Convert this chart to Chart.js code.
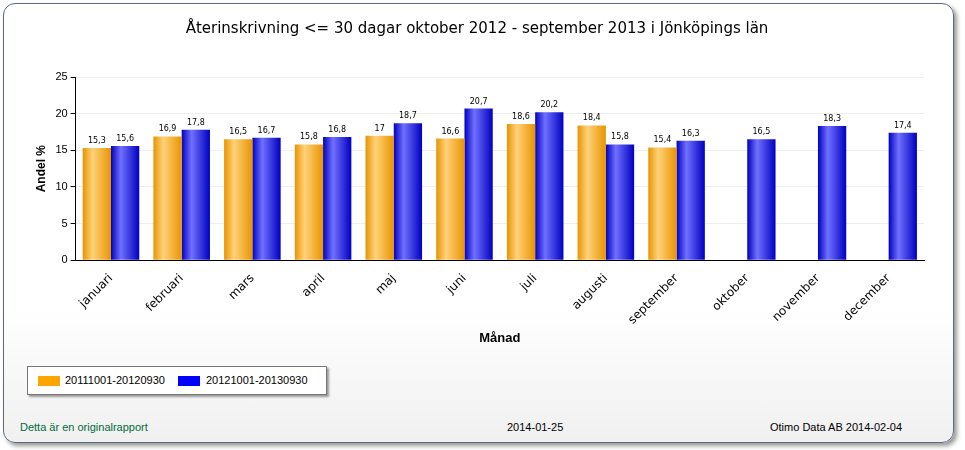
<!DOCTYPE html>
<html><head><meta charset="utf-8">
<script src="https://cdn.jsdelivr.net/npm/chart.js@4"></script>
<style>
body{margin:0;background:#fff;font-family:"Liberation Sans",Arial,sans-serif;}
#panel{position:absolute;left:3px;top:3px;width:949px;height:438px;border:1px solid #5a6a80;border-radius:12px;
 background:linear-gradient(#fff 70%,#f0f0f0);box-shadow:3px 3px 4px #999;}
#wrap{position:absolute;left:0;top:0;width:950px;height:350px;}
#legend{position:absolute;left:27px;top:366px;width:298px;height:27px;border:1px solid #777;box-shadow:2px 2px 2px #999;background:#fff;font-size:11px;}
.sw{position:absolute;top:9px;width:22px;height:10px;}
.lt{position:absolute;top:7px;}
.ft{position:absolute;top:421px;font-size:11px;}
</style></head><body>
<div id="panel"></div>
<div id="wrap"><canvas id="c" width="950" height="350"></canvas></div>
<div id="legend">
 <div class="sw" style="left:10px;background:#ffa500"></div><div class="lt" style="left:37px">20111001-20120930</div>
 <div class="sw" style="left:150px;background:#0000ff"></div><div class="lt" style="left:178px">20121001-20130930</div>
</div>
<div class="ft" style="left:20px;color:#006c3a">Detta är en originalrapport</div>
<div class="ft" style="left:507px">2014-01-25</div>
<div class="ft" style="left:770px">Otimo Data AB 2014-02-04</div>
<script>
//månader och värden
var months = ['januari','februari','mars','april','maj','juni','juli','augusti','september','oktober','november','december'];
var prev = [15.3,16.9,16.5,15.8,17,16.6,18.6,18.4,15.4,null,null,null];
var curr = [15.6,17.8,16.7,16.8,18.7,20.7,20.2,15.8,16.3,16.5,18.3,17.4];
var yTicks = [0,5,10,15,20,25];

//gradient per stapel, räknad från x-skalan
function grad(dark, light, side){
	return function(ctx){
		var chart = ctx.chart, area = chart.chartArea, sx = chart.scales.x;
		if(!area || !sx) return dark;
		var cw = area.width / months.length, bw = cw * 0.8 / 2;
		var cx = sx.getPixelForValue(ctx.dataIndex) + side * bw / 2;
		var g = chart.ctx.createLinearGradient(cx - bw/2, 0, cx + bw/2, 0);
		g.addColorStop(0, dark); g.addColorStop(0.35, light); g.addColorStop(1, dark);
		return g;
	};
}
//värden ovanför staplarna
var labelPlugin = {
	id:'labels',
	afterDatasetsDraw:function(chart){
		var c = chart.ctx;
		c.save();
		c.font = '8px "DejaVu Sans"'; c.fillStyle = '#000'; c.textAlign = 'center';
		chart.data.datasets.forEach(function(ds,i){
			chart.getDatasetMeta(i).data.forEach(function(bar,j){
				if(ds.data[j]==null) return;
				c.fillText(String(ds.data[j]).replace('.',','), bar.x, bar.y - 5);
			});
		});
		c.restore();
	}
};
new Chart(document.getElementById('c'),{
	type:'bar',
	data:{
		labels:months,
		datasets:[
			{label:'20111001-20120930',data:prev,backgroundColor:grad('#e89400','#ffd27a',-1),categoryPercentage:0.8,barPercentage:1},
			{label:'20121001-20130930',data:curr,backgroundColor:grad('#0000c0','#7070ff',1),categoryPercentage:0.8,barPercentage:1}
		]
	},
	options:{
		responsive:false, animation:false,
		layout:{padding:{left:30,right:26,top:10,bottom:0}},
		plugins:{
			legend:{display:false},
			tooltip:{enabled:false},
			title:{display:true,text:'Återinskrivning <= 30 dagar oktober 2012 - september 2013 i Jönköpings län',
				color:'#000',font:{size:15,family:'"DejaVu Sans"',weight:'normal'},padding:{top:10,bottom:39}}
		},
		scales:{
			x:{grid:{display:false},border:{color:'#000'},
				ticks:{color:'#000',font:{size:12,family:'"DejaVu Sans"'},maxRotation:45,minRotation:45},
				title:{display:true,text:'Månad',color:'#000',font:{size:13,weight:'bold'},padding:{top:0}}},
			y:{min:0,max:25,afterBuildTicks:function(a){a.ticks=yTicks.map(function(v){return {value:v};});},
				grid:{color:'#eee',tickColor:'#000',tickLength:5},border:{color:'#000'},
				ticks:{color:'#000',font:{size:11}},
				title:{display:true,text:'Andel %',color:'#000',font:{size:12,weight:'bold'}}}
		}
	},
	plugins:[labelPlugin]
});
</script></body></html>
